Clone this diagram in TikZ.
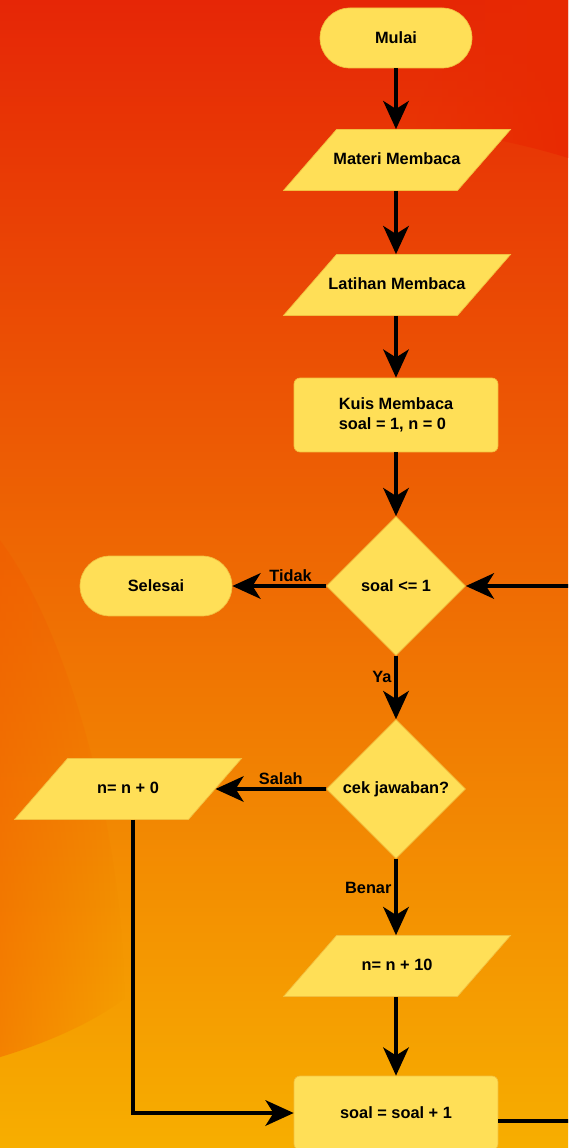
\documentclass[tikz,border=0pt]{standalone}
\usepackage{fontspec}
\setmainfont{Liberation Sans}
\usetikzlibrary{shapes,arrows.meta,fadings}

\definecolor{bgtop}{HTML}{E62606}
\definecolor{bgmid}{HTML}{EE6402}
\definecolor{bgbot}{HTML}{F7AE00}
\definecolor{bandred}{HTML}{E82A02}
\definecolor{blobred}{HTML}{F25A00}
\definecolor{boxfill}{HTML}{FFDF57}
\definecolor{boxline}{HTML}{F2C040}

\tikzset{
  blok/.style={draw=boxline,line width=0.4pt,fill=boxfill,text=black,
    font=\fontsize{9.3}{11}\selectfont\bfseries},
  terminal/.style={blok,rectangle,rounded corners=0.6cm,minimum width=3.04cm,minimum height=1.2cm},
  proses/.style={blok,rectangle,rounded corners=0.12cm,minimum width=4.08cm,minimum height=1.48cm},
  io/.style={blok,trapezium,trapezium left angle=49,trapezium right angle=131,
    text height=7pt,text depth=2pt,inner xsep=0pt,inner ysep=0.4515cm,
    execute at begin node={\hbox to 2.42cm\bgroup\hss},
    execute at end node={\hss\egroup}},
  keputusan/.style={blok,diamond,aspect=1,minimum size=2.78cm,inner sep=0pt},
  panah/.style={line width=2.2pt,-{Stealth[length=16pt,width=14.5pt,inset=4.5pt]}},
  ket/.style={font=\fontsize{9.3}{11}\selectfont\bfseries,inner sep=1.5pt}
}

\begin{document}
\begin{tikzpicture}[x=0.02cm,y=-0.02cm]
\clip (0,0) rectangle (568,1148);
% latar
\shade[top color=bgtop,middle color=bgmid,bottom color=bgbot] (0,0) rectangle (568,1148);
\fill[bandred,path fading=west] (400,0) -- (400,126) .. controls (470,132) and (530,146) .. (568,158) -- (568,0) -- cycle;
\fill[blobred,path fading=east,fill opacity=0.45] (0,540) .. controls (60,620) and (120,800) .. (125,998) .. controls (90,1025) and (40,1045) .. (0,1057) -- cycle;

% simpul
\node[terminal] (mulai) at (396,38) {Mulai};
\node[io] (materi) at (397,160) {Materi Membaca};
\node[io] (latihan) at (397,285) {Latihan Membaca};
\node[proses,align=left] (kuis) at (396,415) {Kuis Membaca\\soal = 1, n = 0};
\node[keputusan] (cek1) at (396,586) {soal <= 1};
\node[terminal] (selesai) at (156,586) {Selesai};
\node[keputusan] (cek2) at (396,789) {cek jawaban?};
\node[io] (salah) at (128,789) {n= n + 0};
\node[io] (benar) at (397,966) {n= n + 10};
\node[proses] (tambah) at (396,1113) {soal = soal + 1};

% panah
\draw[panah] (mulai) -- (mulai |- materi.north);
\draw[panah] (mulai |- materi.south) -- (mulai |- latihan.north);
\draw[panah] (mulai |- latihan.south) -- (kuis);
\draw[panah] (kuis) -- (cek1);
\draw[panah] (cek1) -- node[ket,above,pos=0.38] {Tidak} (selesai);
\draw[panah] (cek1) -- node[ket,left,pos=0.33] {Ya} (cek2);
\draw[panah] (cek2) -- node[ket,above,pos=0.41] {Salah} (salah);
\draw[panah] (cek2) -- node[ket,left,pos=0.38] {Benar} (cek2 |- benar.north);
\draw[panah] (tambah |- benar.south) -- (tambah);
\draw[panah] ([xshift=0.1cm]salah.south) |- (tambah.west);
\draw[panah] ([yshift=-0.16cm]tambah.east) -- ++(2cm,0) |- (cek1.east);
\end{tikzpicture}
\end{document}
